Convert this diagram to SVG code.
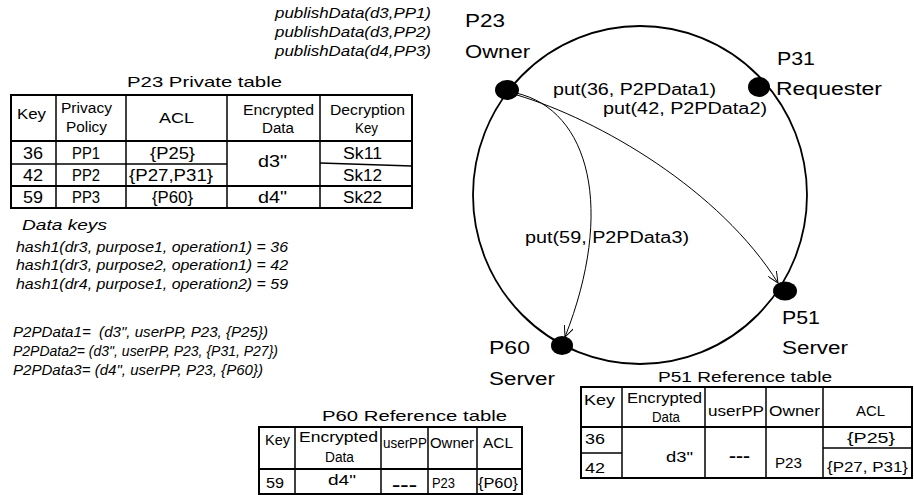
<svg xmlns="http://www.w3.org/2000/svg" width="914" height="495" viewBox="0 0 914 495">
<style>
text { font-family: "Liberation Sans", Arial, sans-serif; fill: #000; }
.it { font-style: italic; font-size: 15px; }
.ring { font-size: 18px; }
.put { font-size: 16px; }
.ttl { font-size: 15px; }
.hd { font-size: 14px; }
.cell { font-size: 16px; }
.rc { font-size: 15px; }
.dash { font-size: 15px; font-weight: bold; }
.frame { fill: none; stroke: #000; stroke-width: 2; }
.ln { stroke: #000; stroke-width: 1.5; fill: none; }
.conn { fill: none; stroke: #000; stroke-width: 1; }
.dot { fill: #000; }
</style>
<defs>
<marker id="arr" markerWidth="12" markerHeight="10" refX="11" refY="5" orient="auto" markerUnits="userSpaceOnUse">
<path d="M0,0 L11,5 L0,10" fill="none" stroke="#000" stroke-width="1"/>
</marker>
</defs>

<g id="publish-calls">
<text class="it" x="275" y="18" textLength="156" lengthAdjust="spacingAndGlyphs">publishData(d3,PP1)</text>
<text class="it" x="275" y="37" textLength="156" lengthAdjust="spacingAndGlyphs">publishData(d3,PP2)</text>
<text class="it" x="275" y="56" textLength="156" lengthAdjust="spacingAndGlyphs">publishData(d4,PP3)</text>
</g>

<g id="ring">
<ellipse cx="640" cy="195" rx="167" ry="169" fill="none" stroke="#000" stroke-width="1.8"/>
</g>

<g id="connectors">
<path class="conn" d="M516,93 C590,110 615,210 565,337" marker-end="url(#arr)"/>
<path class="conn" d="M517,95 C600,120 720,190 778,283" marker-end="url(#arr)"/>
<text class="put" x="553" y="95" textLength="163" lengthAdjust="spacingAndGlyphs">put(36, P2PData1)</text>
<text class="put" x="603" y="114" textLength="164" lengthAdjust="spacingAndGlyphs">put(42, P2PData2)</text>
<text class="put" x="525" y="243" textLength="164" lengthAdjust="spacingAndGlyphs">put(59, P2PData3)</text>
</g>

<g id="node-P23">
<ellipse class="dot" cx="507" cy="90" rx="12" ry="10"/>
<text class="ring" x="465" y="27" textLength="40" lengthAdjust="spacingAndGlyphs">P23</text>
<text class="ring" x="465" y="58" textLength="65" lengthAdjust="spacingAndGlyphs">Owner</text>
</g>
<g id="node-P31">
<ellipse class="dot" cx="759" cy="87" rx="11" ry="10"/>
<text class="ring" x="777" y="65" textLength="38" lengthAdjust="spacingAndGlyphs">P31</text>
<text class="ring" x="776" y="95" textLength="106" lengthAdjust="spacingAndGlyphs">Requester</text>
</g>
<g id="node-P51">
<ellipse class="dot" cx="785" cy="291" rx="12" ry="9.5"/>
<text class="ring" x="782" y="324" textLength="38" lengthAdjust="spacingAndGlyphs">P51</text>
<text class="ring" x="782" y="354" textLength="66" lengthAdjust="spacingAndGlyphs">Server</text>
</g>
<g id="node-P60">
<ellipse class="dot" cx="562" cy="345.5" rx="11" ry="9.5"/>
<text class="ring" x="489" y="354" textLength="41" lengthAdjust="spacingAndGlyphs">P60</text>
<text class="ring" x="489" y="385" textLength="66" lengthAdjust="spacingAndGlyphs">Server</text>
</g>

<g id="p23-private-table">
<text class="ttl" x="127" y="87" textLength="155" lengthAdjust="spacingAndGlyphs">P23 Private table</text>
<rect class="frame" x="11" y="95" width="401" height="113"/>
<line class="ln" x1="56" y1="95" x2="56" y2="208"/>
<line class="ln" x1="126" y1="95" x2="126" y2="208"/>
<line class="ln" x1="227" y1="95" x2="227" y2="208"/>
<line class="ln" x1="320" y1="95" x2="320" y2="208"/>
<line class="frame" x1="11" y1="141" x2="412" y2="141"/>
<line class="ln" x1="11" y1="164" x2="227" y2="164"/>
<line class="ln" x1="320" y1="163" x2="412" y2="166"/>
<line class="frame" x1="11" y1="186" x2="412" y2="186"/>
<text class="hd" x="17" y="119" textLength="29" lengthAdjust="spacingAndGlyphs">Key</text>
<text class="hd" x="61" y="113" textLength="51" lengthAdjust="spacingAndGlyphs">Privacy</text>
<text class="hd" x="66" y="132" textLength="41" lengthAdjust="spacingAndGlyphs">Policy</text>
<text class="hd" x="159" y="123" textLength="35" lengthAdjust="spacingAndGlyphs">ACL</text>
<text class="hd" x="243" y="115" textLength="71" lengthAdjust="spacingAndGlyphs">Encrypted</text>
<text class="hd" x="262" y="133" textLength="32" lengthAdjust="spacingAndGlyphs">Data</text>
<text class="hd" x="330" y="115" textLength="75" lengthAdjust="spacingAndGlyphs">Decryption</text>
<text class="hd" x="355" y="133" textLength="23" lengthAdjust="spacingAndGlyphs">Key</text>
<text class="cell" x="23" y="159" textLength="20" lengthAdjust="spacingAndGlyphs">36</text>
<text class="cell" x="72" y="159" textLength="28" lengthAdjust="spacingAndGlyphs">PP1</text>
<text class="cell" x="150" y="159" textLength="45" lengthAdjust="spacingAndGlyphs">{P25}</text>
<text class="cell" x="343" y="159" textLength="39" lengthAdjust="spacingAndGlyphs">Sk11</text>
<text class="cell" x="258" y="167" textLength="29" lengthAdjust="spacingAndGlyphs">d3"</text>
<text class="cell" x="23" y="181" textLength="20" lengthAdjust="spacingAndGlyphs">42</text>
<text class="cell" x="72" y="181" textLength="28" lengthAdjust="spacingAndGlyphs">PP2</text>
<text class="cell" x="129" y="181" textLength="84" lengthAdjust="spacingAndGlyphs">{P27,P31}</text>
<text class="cell" x="343" y="181" textLength="39" lengthAdjust="spacingAndGlyphs">Sk12</text>
<text class="cell" x="23" y="203" textLength="20" lengthAdjust="spacingAndGlyphs">59</text>
<text class="cell" x="72" y="203" textLength="28" lengthAdjust="spacingAndGlyphs">PP3</text>
<text class="cell" x="152" y="203" textLength="41" lengthAdjust="spacingAndGlyphs">{P60}</text>
<text class="cell" x="258" y="203" textLength="29" lengthAdjust="spacingAndGlyphs">d4"</text>
<text class="cell" x="343" y="203" textLength="39" lengthAdjust="spacingAndGlyphs">Sk22</text>
</g>

<g id="data-keys">
<text class="it" x="22" y="230" textLength="85" lengthAdjust="spacingAndGlyphs">Data keys</text>
<text class="it" x="16" y="252" textLength="272" lengthAdjust="spacingAndGlyphs">hash1(dr3, purpose1, operation1) = 36</text>
<text class="it" x="16" y="270" textLength="272" lengthAdjust="spacingAndGlyphs">hash1(dr3, purpose2, operation1) = 42</text>
<text class="it" x="16" y="289" textLength="272" lengthAdjust="spacingAndGlyphs">hash1(dr4, purpose1, operation2) = 59</text>
</g>

<g id="p2p-data">
<text class="it" x="13" y="337" textLength="255" lengthAdjust="spacingAndGlyphs" xml:space="preserve">P2PData1=  (d3", userPP, P23, {P25})</text>
<text class="it" x="13" y="356" textLength="265" lengthAdjust="spacingAndGlyphs">P2PData2= (d3", userPP, P23, {P31, P27})</text>
<text class="it" x="13" y="375" textLength="250" lengthAdjust="spacingAndGlyphs">P2PData3= (d4", userPP, P23, {P60})</text>
</g>

<g id="p51-reference-table">
<text class="ttl" x="658" y="382" textLength="174" lengthAdjust="spacingAndGlyphs">P51 Reference table</text>
<rect class="frame" x="581" y="387" width="331" height="91"/>
<line class="ln" x1="622" y1="387" x2="622" y2="478"/>
<line class="ln" x1="705" y1="387" x2="705" y2="478"/>
<line class="ln" x1="766" y1="387" x2="766" y2="478"/>
<line class="ln" x1="823" y1="387" x2="823" y2="478"/>
<line class="frame" x1="581" y1="427" x2="912" y2="427"/>
<line class="ln" x1="581" y1="453" x2="622" y2="453"/>
<line class="ln" x1="823" y1="448" x2="912" y2="448"/>
<text class="hd" x="584" y="405" textLength="31" lengthAdjust="spacingAndGlyphs">Key</text>
<text class="hd" x="627" y="403" textLength="75" lengthAdjust="spacingAndGlyphs">Encrypted</text>
<text class="hd" x="652" y="422" textLength="28" lengthAdjust="spacingAndGlyphs">Data</text>
<text class="hd" x="708" y="416" textLength="56" lengthAdjust="spacingAndGlyphs">userPP</text>
<text class="hd" x="769" y="416" textLength="51" lengthAdjust="spacingAndGlyphs">Owner</text>
<text class="hd" x="856" y="416" textLength="29" lengthAdjust="spacingAndGlyphs">ACL</text>
<text class="hd" x="585" y="444" textLength="20" lengthAdjust="spacingAndGlyphs">36</text>
<text class="hd" x="585" y="473" textLength="20" lengthAdjust="spacingAndGlyphs">42</text>
<text class="rc" x="666" y="462" textLength="27" lengthAdjust="spacingAndGlyphs">d3"</text>
<text class="dash" x="729" y="461" textLength="21" lengthAdjust="spacingAndGlyphs">---</text>
<text class="rc" x="775" y="468" textLength="27" lengthAdjust="spacingAndGlyphs">P23</text>
<text class="rc" x="847" y="443" textLength="48" lengthAdjust="spacingAndGlyphs">{P25}</text>
<text class="rc" x="827" y="472" textLength="81" lengthAdjust="spacingAndGlyphs">{P27, P31}</text>
</g>

<g id="p60-reference-table">
<text class="ttl" x="322" y="421" textLength="185" lengthAdjust="spacingAndGlyphs">P60 Reference table</text>
<rect class="frame" x="259" y="427" width="263" height="67"/>
<line class="ln" x1="295" y1="427" x2="295" y2="494"/>
<line class="ln" x1="381" y1="427" x2="381" y2="494"/>
<line class="ln" x1="428" y1="427" x2="428" y2="494"/>
<line class="ln" x1="477" y1="427" x2="477" y2="494"/>
<line class="frame" x1="259" y1="469" x2="522" y2="469"/>
<text class="hd" x="265" y="445" textLength="25" lengthAdjust="spacingAndGlyphs">Key</text>
<text class="hd" x="299" y="442" textLength="79" lengthAdjust="spacingAndGlyphs">Encrypted</text>
<text class="hd" x="325" y="462" textLength="29" lengthAdjust="spacingAndGlyphs">Data</text>
<text class="hd" x="383" y="448" textLength="44" lengthAdjust="spacingAndGlyphs">userPP</text>
<text class="hd" x="430" y="448" textLength="44" lengthAdjust="spacingAndGlyphs">Owner</text>
<text class="hd" x="483" y="448" textLength="30" lengthAdjust="spacingAndGlyphs">ACL</text>
<text class="rc" x="266" y="488" textLength="18" lengthAdjust="spacingAndGlyphs">59</text>
<text class="rc" x="328" y="485" textLength="28" lengthAdjust="spacingAndGlyphs">d4"</text>
<text class="dash" x="392" y="490" textLength="25" lengthAdjust="spacingAndGlyphs">---</text>
<text class="rc" x="432" y="488" textLength="23" lengthAdjust="spacingAndGlyphs">P23</text>
<text class="rc" x="478" y="488" textLength="40" lengthAdjust="spacingAndGlyphs">{P60}</text>
</g>
</svg>
